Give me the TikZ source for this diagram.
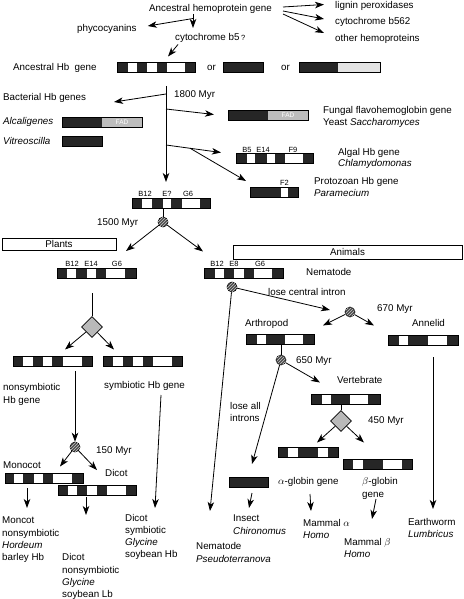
\documentclass[tikz,border=0pt]{standalone}
\usepackage{fontspec}
\setmainfont{Liberation Sans}
\usetikzlibrary{arrows.meta,patterns,shapes.geometric}
\newcommand\genewhite[2]{\foreach \a/\b in {#2}{\fill[white] ([xshift=\a pt]#1.north west) rectangle ([xshift=\b pt]#1.south west);}\draw[line width=0.7pt] (#1.north west) rectangle (#1.south east);}
\newcommand\genegray[3][gray!52]{\fill[#1] ([xshift=#3 pt]#2.north west) rectangle (#2.south east);\draw[line width=0.7pt] (#2.north west) rectangle (#2.south east);}
\begin{document}
\begin{tikzpicture}[x=1pt,y=-1pt,
  txt/.style={font=\fontsize{9.8}{12.2}\selectfont, inner sep=0pt, anchor=base west},
  mtxt/.style={font=\fontsize{9.8}{12.2}\selectfont, inner sep=0pt, anchor=north west, align=left},
  lbl/.style={font=\fontsize{7.5}{9}\selectfont, inner sep=0pt, anchor=base},
  fad/.style={font=\fontsize{6.5}{8}\selectfont, inner sep=0pt, text=white},
  arr/.style={line width=0.8pt, -{Stealth[length=9pt,width=6.5pt,inset=2.5pt]}},
  ln/.style={line width=0.8pt},
  bar/.style={draw=black, line width=0.7pt, fill=black!85, minimum height=10pt, minimum width=#1, inner sep=0pt, outer sep=0pt, anchor=west},
  hcirc/.style={circle, draw, line width=0.6pt, fill=black!70, minimum size=10pt, inner sep=0pt, postaction={pattern=north east lines, pattern color=gray!45}},
  dia/.style={diamond, draw, line width=0.6pt, fill=gray!55, minimum size=21pt, inner sep=0pt},
  grp/.style={draw, line width=0.7pt, inner sep=0pt, font=\fontsize{9.8}{12}\selectfont}
]
\useasboundingbox (0,0) rectangle (463,599);

% ---- top ----
\node[txt] (ahg) at (149,11.5) {Ancestral hemoprotein gene};
\node[txt] (phy) at (77,31.5) {phycocyanins};
\node[txt] (cb5) at (175,40.5) {cytochrome b5\,{\fontsize{7.5}{9}\selectfont ?}};
\node[txt] (lig) at (335,8.5) {lignin peroxidases};
\node[txt] (c562) at (335,24.5) {cytochrome b562};
\node[txt] (oth) at (335,41.5) {other hemoproteins};
\coordinate (j0) at (193,18.5);
\draw[arr] (193,14) -- (193,28);
\draw[arr] (j0) -- ([xshift=11pt]phy.east |- 0,26);
\draw[arr] (283,7) -- ([xshift=-11pt]lig.west |- 0,4.5);
\draw[arr] (283,11) -- ([xshift=-11pt]c562.west |- 0,19);
\draw[arr] (283,14) -- ([xshift=-11pt]oth.west |- 0,33);
\draw[arr] (178,44.5) -- (168,56.5);

% ---- ancestral Hb gene ----
\node[txt] (ahb) at (13,70.5) {Ancestral Hb\ \ gene};
\node[bar=78pt] (anc1) at (117,67) {};
\genewhite{anc1}{11/20,30/40,50/68}
\node[txt] (or1) at (207,70.5) {or};
\node[bar=40pt] (anc2) at (223,67) {};
\node[txt] (or2) at (281,70.5) {or};
\node[bar=81pt] (anc3) at (299,67) {};
\genegray[gray!22]{anc3}{39}

% ---- 1800 Myr split ----
\node[txt] (m1800) at (174,97.5) {1800 Myr};
\coordinate (t0) at (166,86);
\coordinate (b1) at (166,94);
\coordinate (b2) at (166,109);
\coordinate (b3) at (166,145);
\coordinate (b4) at (190,148.2);
\draw[arr] (t0) -- (166,182);
\draw[arr] (b1) -- (114,102);
\draw[arr] (b2) -- (214,114.5);
\draw[arr] (b3) -- (221,152.5);
\draw[arr] (b4) -- (246,181);

\node[txt] (bact) at (3,100.5) {Bacterial Hb genes};
\node[txt] (alc) at (3,124.5) {\itshape Alcaligenes};
\node[txt] (vit) at (3,144.5) {\itshape Vitreoscilla};
\node[bar=80pt] (alcb) at (62,122) {};
\genegray{alcb}{40}
\node[fad] at (122,122) {FAD};
\node[bar=40pt] (vitb) at (62,141.5) {};

\node[bar=80pt] (fung) at (228,115) {};
\genegray{fung}{40}
\node[fad] at (288,115) {FAD};
\node[txt] (fungt) at (323,113.5) {Fungal flavohemoglobin gene};
\node[txt] (yeast) at (323,125.5) {Yeast \textit{Saccharomyces}};

\node[bar=77pt] (alg) at (236,158.5) {};
\genewhite{alg}{11/19,31/39,49/67}
\node[lbl] at (247,152) {B5};
\node[lbl] at (263,152) {E14};
\node[lbl] at (293,152) {F9};
\node[txt] (algt) at (338,155.5) {Algal Hb gene};
\node[txt] (chl) at (338,166) {\itshape Chlamydomonas};

\node[bar=48pt] (pro) at (250,192.5) {};
\genewhite{pro}{31/38}
\node[lbl] at (284.5,185.5) {F2};
\node[txt] (prot) at (314,184.5) {Protozoan Hb gene};
\node[txt] (par) at (314,196.5) {\itshape Paramecium};

% ---- 1500 Myr ----
\node[bar=78pt] (bB) at (132,203) {};
\genewhite{bB}{10/20,31/39,50/68}
\node[lbl] at (145,196) {B12};
\node[lbl] at (167,196) {E?};
\node[lbl] at (188,196) {G6};
\node[hcirc] (c1500) at (163,222) {};
\draw[ln] (c1500.north) -- (c1500 |- bB.south);
\node[txt] (m1500) at (97,225.5) {1500 Myr};
\draw[arr] (c1500) -- (126,251);
\draw[arr] (c1500) -- (203,251.5);

\node[grp, minimum width=114pt, minimum height=12pt] (plants) at (59,244) {Plants};
\node[grp, minimum width=229pt, minimum height=14pt] (animals) at (347.5,252) {Animals};

% ---- plants ----
\node[bar=79pt] (pl) at (57,273) {};
\genewhite{pl}{10/19,30/39,49/68}
\node[lbl] at (72,266) {B12};
\node[lbl] at (91,266) {E14};
\node[lbl] at (117,266) {G6};
\node[dia] (dpl) at (92,327) {};
\draw[ln] (dpl.north) -- (92,293);
\draw[arr] (dpl) -- (65,349.5);
\draw[arr] (dpl) -- (114,349.5);
\node[bar=79pt] (nsym) at (13,361.5) {};
\genewhite{nsym}{10/20,30/39,50/69}
\node[bar=79pt] (sym) at (103,361.5) {};
\genewhite{sym}{10/20,30/40,50/69}
\node[mtxt] (nsymt) at (3,383.5) {nonsymbiotic\\Hb gene};
\node[txt] (symt) at (104,388.5) {symbiotic Hb gene};
\node[hcirc] (c150) at (75,447) {};
\draw[arr] (75,371) -- (c150.north);
\node[txt] (m150) at (96,453) {150 Myr};
\draw[arr] (c150) -- (60,466.5);
\draw[arr] (c150) -- (97,470);
\node[txt] (mono) at (3,468.5) {Monocot};
\node[txt] (dic) at (105,476) {Dicot};
\node[bar=78pt] (monob) at (5,478) {};
\genewhite{monob}{9/18,29/38,48/67}
\node[bar=78pt] (dicb) at (58,490) {};
\genewhite{dicb}{10/19,29/39,49/68}
\draw[arr] (27,488) -- (27,508);
\draw[arr] (86,497) -- (86,515);
\draw[arr] (161,395) -- (155,508);
\node[mtxt] (monot) at (2,517) {Moncot\\nonsymbiotic\\\textit{Hordeum}\\barley Hb};
\node[mtxt] (dicot2) at (62,553.5) {Dicot\\nonsymbiotic\\\textit{Glycine}\\soybean Lb};
\node[mtxt] (dicot1) at (125,514) {Dicot\\symbiotic\\\textit{Glycine}\\soybean Hb};

% ---- animals ----
\node[bar=79pt] (nem) at (204,273) {};
\genewhite{nem}{11/20,30/40,50/68}
\node[lbl] at (217,266) {B12};
\node[lbl] at (234,266) {E8};
\node[lbl] at (260,266) {G6};
\node[txt] (nemt) at (306,275.5) {Nematode};
\node[hcirc] (cnem) at (232,287) {};
\node[txt] (lci) at (268,295.5) {lose central intron};
\draw[arr] (cnem) -- (330,310);
\draw[arr] (cnem) -- (210,511);

\node[hcirc] (c670) at (350,312) {};
\node[txt] (m670) at (377,311.5) {670 Myr};
\draw[arr] (c670) -- (323,325.5);
\draw[arr] (c670) -- (374,325.5);
\node[txt] (arthp) at (245,326.5) {Arthropod};
\node[txt] (annl) at (412,326.5) {Annelid};
\node[bar=68pt] (arth) at (246,339.5) {};
\genewhite{arth}{11/20,39/57}
\node[bar=70pt] (ann) at (388,340) {};
\genewhite{ann}{11/20,40/59}
\draw[arr] (433,357) -- (433,509);

\node[hcirc] (c650) at (281,360) {};
\draw[ln] (c650.north) -- (c650 |- arth.south);
\node[txt] (m650) at (296,363.5) {650 Myr};
\draw[arr] (c650) -- (320,382.5);
\node[txt] (vertt) at (337,383.5) {Vertebrate};
\node[bar=69pt] (vert) at (311,399) {};
\genewhite{vert}{11/20,39/57}
\node[dia] (dv) at (341,421) {};
\draw[ln] (dv.north) -- (dv.north |- vert.south);
\node[txt] (m450) at (368,423) {450 Myr};
\draw[arr] (dv) -- (317,442.5);
\draw[arr] (dv) -- (364,442.5);
\node[bar=60pt] (alpha) at (278,452) {};
\genewhite{alpha}{10/20,40/50}
\node[bar=69pt] (beta) at (343,464.5) {};
\genewhite{beta}{10/20,40/59}
\node[mtxt] (lai) at (230,402) {lose all\\introns};
\draw[arr] (c650) -- (252,464);
\node[bar=39pt] (ins) at (229,482) {};
\node[txt] (alphat) at (278,484.5) {$\alpha$-globin gene};
\node[mtxt] (betat) at (362,477.5) {$\beta$-globin\\gene};
\draw[arr] (252,493) -- (249,508);
\draw[arr] (310,494) -- (311,511);
\draw[arr] (376,499) -- (372,519);

\node[mtxt] (inst) at (233,515) {Insect\\\textit{Chironomus}};
\node[mtxt] (nemb) at (196,542.5) {Nematode\\\textit{Pseudoterranova}};
\node[mtxt] (mama) at (303,519) {Mammal $\alpha$\\\textit{Homo}};
\node[mtxt] (mamb) at (344,538) {Mammal $\beta$\\\textit{Homo}};
\node[mtxt] (ew) at (408,518) {Earthworm\\\textit{Lumbricus}};
\end{tikzpicture}
\end{document}
